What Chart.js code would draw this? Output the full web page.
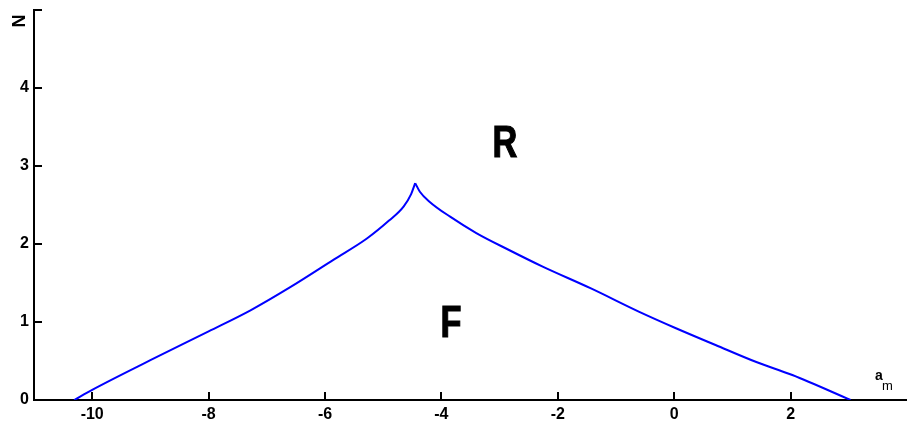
<!DOCTYPE html>
<html lang="en">
<head>
    <meta charset="UTF-8">
    <title>N vs a_m boundary</title>
    <script src="https://cdn.jsdelivr.net/npm/chart.js"></script>
    <style>
        html, body { margin: 0; padding: 0; background: #fff; }
        #wrap { width: 907px; height: 426px; }
    </style>
</head>
<body>
    <div id="wrap"><canvas id="boundaryChart"></canvas></div>
    <script>
        // Boundary curve, left branch (rising towards the cusp)
        const leftA = [-10.31, -10.0, -9.0, -8.0, -7.28, -6.59, -5.85, -5.28, -4.9, -4.65, -4.52, -4.45];
        const leftN = [0.0, 0.13, 0.51, 0.88, 1.15, 1.45, 1.80, 2.07, 2.30, 2.48, 2.64, 2.78];

        // Right branch (from the cusp down to the axis)
        const rightA = [-4.45, -4.37, -4.2, -3.85, -3.4, -2.83, -2.26, -1.43, -0.6, 0.03, 0.71, 1.4, 2.03, 3.03];
        const rightN = [2.78, 2.67, 2.54, 2.35, 2.14, 1.92, 1.71, 1.43, 1.13, 0.92, 0.705, 0.49, 0.32, 0.0];

        const xTicks = [-10, -8, -6, -4, -2, 0, 2];
        const yTicks = [0, 1, 2, 3, 4, 5];
        const yLabelled = [0, 1, 2, 3, 4];

        // Region labels placed in data coordinates
        const regionText = ['R', 'F'];
        const regionA = [-2.91, -3.835];
        const regionN = [3.11, 0.81];

        const toPoints = (xs, ys) => xs.map((x, i) => ({ x: x, y: ys[i] }));

        const FONT = '"Liberation Sans", Arial, Helvetica, sans-serif';

        // inward tick marks, region letters and axis titles
        const decorations = {
            id: 'decorations',
            afterDraw(chart) {
                const ctx = chart.ctx;
                const xs = chart.scales.x, ys = chart.scales.y;
                const area = chart.chartArea;
                ctx.save();
                ctx.strokeStyle = '#000';
                ctx.lineWidth = 2;
                ctx.beginPath();
                xTicks.forEach(v => {
                    const px = Math.round(xs.getPixelForValue(v));
                    ctx.moveTo(px, area.bottom);
                    ctx.lineTo(px, area.bottom - 8);
                });
                yTicks.forEach(v => {
                    const py = Math.round(ys.getPixelForValue(v));
                    ctx.moveTo(area.left, py);
                    ctx.lineTo(area.left + 8, py);
                });
                ctx.stroke();

                ctx.fillStyle = '#000';
                ctx.textBaseline = 'alphabetic';

                // big region letters, heavy and narrow
                ctx.font = 'bold 44px ' + FONT;
                ctx.lineWidth = 1.2;
                regionText.forEach((t, i) => {
                    ctx.save();
                    ctx.translate(xs.getPixelForValue(regionA[i]), ys.getPixelForValue(regionN[i]));
                    ctx.scale(0.78, 1);
                    ctx.textAlign = 'center';
                    ctx.fillText(t, 0, 0);
                    ctx.strokeText(t, 0, 0);
                    ctx.restore();
                });

                // x title: a with subscript m
                ctx.textAlign = 'left';
                ctx.font = 'bold 14px ' + FONT;
                ctx.fillText('a', 875, 380);
                ctx.font = '13px ' + FONT;
                ctx.fillText('m', 882, 390);

                // y title, rotated
                ctx.translate(25, 21);
                ctx.rotate(-Math.PI / 2);
                ctx.textAlign = 'center';
                ctx.font = 'bold 18px ' + FONT;
                ctx.fillText('N', 0, 0);
                ctx.restore();
            }
        };

        const branch = pts => ({
            data: pts,
            showLine: true,
            borderColor: '#0000ff',
            borderWidth: 2,
            pointRadius: 0,
            cubicInterpolationMode: 'monotone',
            fill: false
        });

        new Chart(document.getElementById('boundaryChart'), {
            type: 'scatter',
            data: {
                datasets: [branch(toPoints(leftA, leftN)), branch(toPoints(rightA, rightN))]
            },
            options: {
                responsive: true,
                maintainAspectRatio: false,
                animation: false,
                layout: { padding: 0 },
                plugins: {
                    legend: { display: false },
                    tooltip: { enabled: false }
                },
                scales: {
                    x: {
                        type: 'linear',
                        min: -11,
                        max: 4,
                        afterFit: s => { s.height = 26; s.paddingRight = 0; },
                        afterBuildTicks: s => { s.ticks = xTicks.map(v => ({ value: v })); },
                        grid: { display: false, drawTicks: false },
                        border: { display: true, color: '#000', width: 2 },
                        ticks: {
                            color: '#000',
                            padding: 5,
                            maxRotation: 0,
                            font: { family: FONT, size: 16, weight: 'bold' }
                        }
                    },
                    y: {
                        type: 'linear',
                        min: 0,
                        max: 5,
                        afterFit: s => { s.width = 34; s.paddingTop = 10; },
                        afterBuildTicks: s => { s.ticks = yTicks.map(v => ({ value: v })); },
                        grid: { display: false, drawTicks: false },
                        border: { display: true, color: '#000', width: 2 },
                        ticks: {
                            color: '#000',
                            padding: 5,
                            font: { family: FONT, size: 16, weight: 'bold' },
                            callback: v => yLabelled.includes(v) ? String(v) : ''
                        }
                    }
                }
            },
            plugins: [decorations]
        });
    </script>
</body>
</html>
